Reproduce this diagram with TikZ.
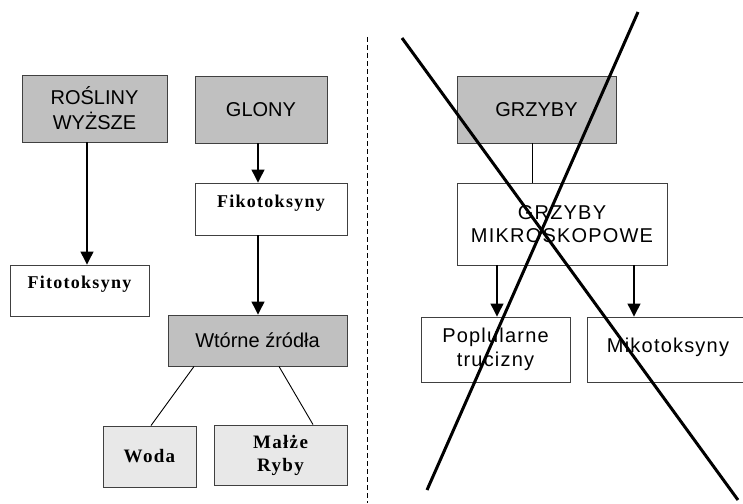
\documentclass[tikz,border=0pt]{standalone}
\usepackage{fontspec}
\setmainfont{Liberation Serif}
\setsansfont{Liberation Sans}
\newfontfamily\serifsp[LetterSpace=7]{Liberation Serif}
\newfontfamily\sanssp[LetterSpace=6]{Liberation Sans}
\usetikzlibrary{arrows.meta}
\definecolor{boxgray}{HTML}{C0C0C0}
\definecolor{lightgray}{HTML}{E8E8E8}
\definecolor{edge}{HTML}{404040}
\tikzset{
  basebox/.style={draw=edge, line width=0.9pt, inner sep=0pt, align=center},
  graybox/.style={basebox, fill=boxgray, font=\sffamily\fontsize{20}{25}\selectfont},
  whitesans/.style={basebox, fill=white, font=\sanssp\fontsize{20}{23.5}\selectfont},
  serifbox/.style={basebox, fill=white, font=\serifsp\bfseries\fontsize{18}{21}\selectfont},
  seriftext/.style={inner sep=0pt, font=\serifsp\bfseries\fontsize{18}{21}\selectfont},
  lightbox/.style={basebox, fill=lightgray, font=\serifsp\bfseries\fontsize{19}{23}\selectfont},
  arr/.style={line width=1.2pt, -{Triangle[length=13pt,width=13pt]}},
  link/.style={line width=0.9pt},
  cross/.style={line width=3pt}
}
\begin{document}
\begin{tikzpicture}[x=1pt,y=-1pt]
\useasboundingbox (0,0) rectangle (743,503);
\fill[white] (0,0) rectangle (743,503);
% left side
\node[graybox, minimum width=145pt, minimum height=67pt] (rosliny) at (94.5,108.5) {ROŚLINY\\WYŻSZE};
\node[graybox, minimum width=132pt, minimum height=67pt] (glony) at (261,109.5) {GLONY};
\node[serifbox, minimum width=152pt, minimum height=52pt] (fiko) at (271,209) {};
\node[seriftext] (fikot) at (271,203) {Fikotoksyny};
\node[serifbox, minimum width=139pt, minimum height=51pt] (fito) at (79.5,290.5) {};
\node[seriftext] (fitot) at (79.5,284) {Fitotoksyny};
\node[graybox, minimum width=179pt, minimum height=51pt] (wtorne) at (257.5,340.5) {Wtórne źródła};
\node[lightbox, minimum width=93pt, minimum height=61pt] (woda) at (149.5,456.5) {Woda};
\node[lightbox, minimum width=133pt, minimum height=60pt] (malze) at (280.5,455) {Małże\\Ryby};
\coordinate (xa) at (258,0);
\coordinate (xr) at (87,0);
\draw[arr] (glony.south -| xa) -- (fiko.north -| xa);
\draw[arr] (fiko.south -| xa) -- (wtorne.north -| xa);
\draw[arr] (rosliny.south -| xr) -- (fito.north -| xr);
\coordinate (w1) at (194,0);
\coordinate (w2) at (151,0);
\coordinate (m1) at (279,0);
\coordinate (m2) at (313,0);
\draw[link] (wtorne.south -| w1) -- (woda.north -| w2);
\draw[link] (wtorne.south -| m1) -- (malze.north -| m2);
% divider
\coordinate (dtop) at (367,37);
\coordinate (dbot) at (367,503);
\draw[line width=0.8pt, dash pattern=on 5pt off 3pt] (dtop) -- (dbot);
% right side
\node[graybox, minimum width=159pt, minimum height=67pt] (grzyby) at (536.5,109.5) {GRZYBY};
\node[whitesans, minimum width=210pt, minimum height=82pt] (mikro) at (562,224) {GRZYBY\\MIKROSKOPOWE};
\node[whitesans, minimum width=149pt, minimum height=65pt] (popl) at (495.5,349.5) {Poplularne\\trucizny};
\node[whitesans, minimum width=161pt, minimum height=65pt] (miko) at (667.5,349.5) {};
\node[font=\sanssp\fontsize{20}{23.5}\selectfont, inner sep=0pt] (mikot) at (668,347) {Mikotoksyny};
\coordinate (g1) at (532,0);
\coordinate (p1) at (497,0);
\coordinate (k1) at (634,0);
\draw[link] (grzyby.south -| g1) -- (mikro.north -| g1);
\draw[arr] (mikro.south -| p1) -- (popl.north -| p1);
\draw[arr] (mikro.south -| k1) -- (miko.north -| k1);
% cross
\coordinate (c1a) at (402,38);
\coordinate (c1b) at (738,500);
\coordinate (c2a) at (638,12);
\coordinate (c2b) at (427,490);
\draw[cross] (c1a) -- (c1b);
\draw[cross] (c2a) -- (c2b);
\end{tikzpicture}
\end{document}
